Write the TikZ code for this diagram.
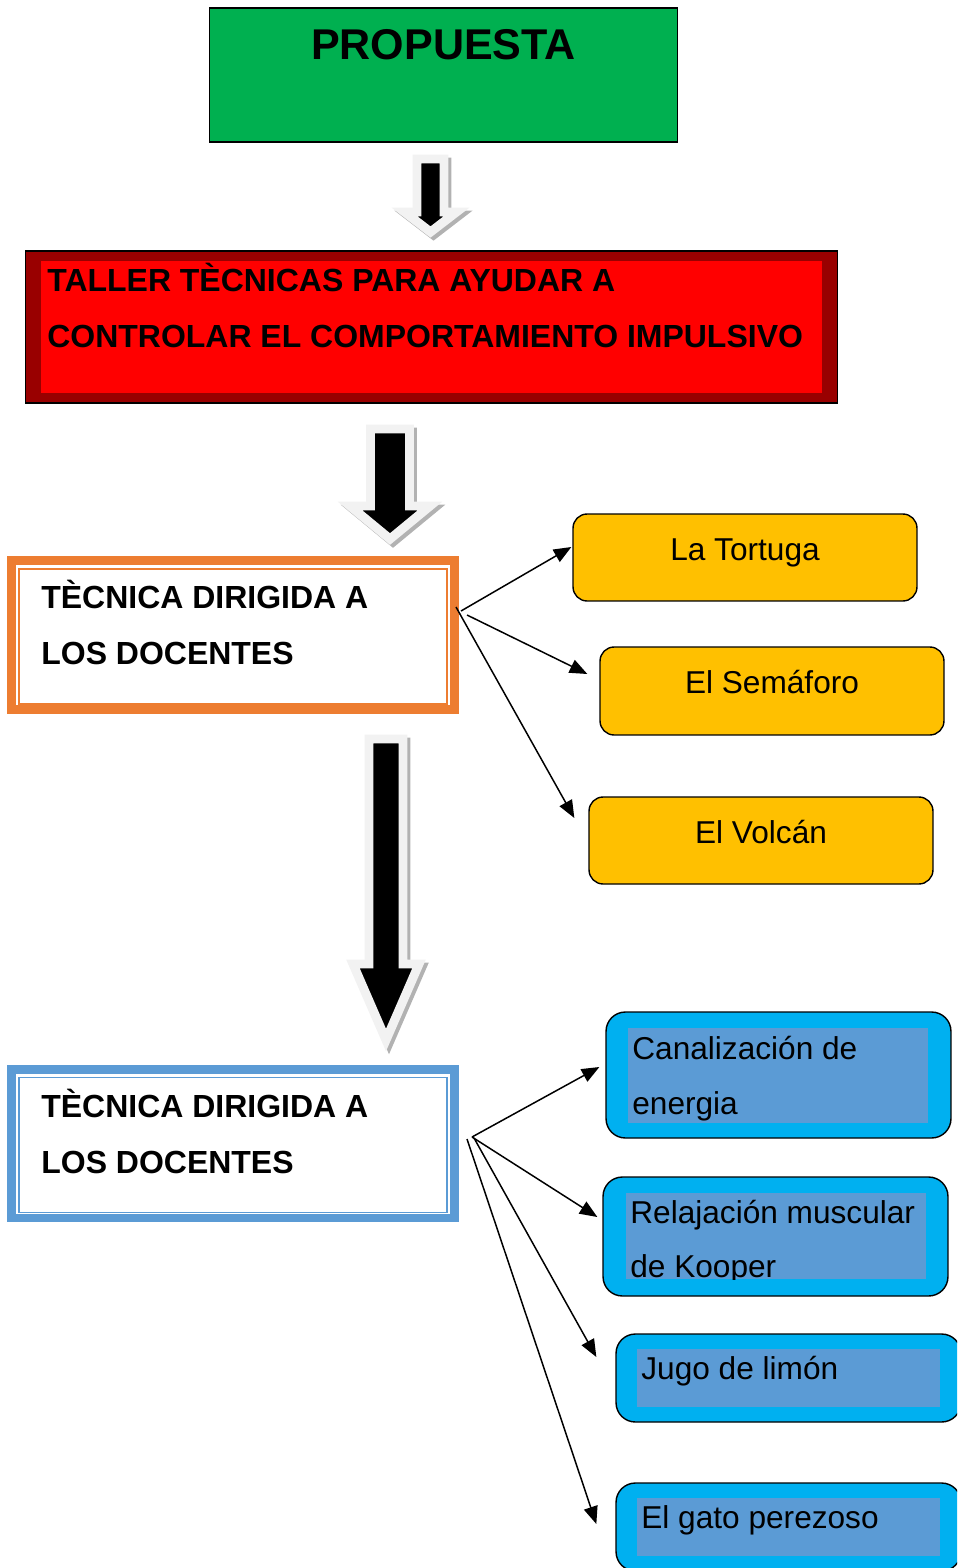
\documentclass[tikz,border=0pt]{standalone}
\usepackage{fontspec}
\setmainfont{Liberation Sans}
\usepackage{xcolor}
\usetikzlibrary{positioning}
\usetikzlibrary{calc}
\usetikzlibrary{arrows.meta}

\definecolor{propgreen}{HTML}{00B050}
\definecolor{tallerdark}{HTML}{990000}
\definecolor{tallerred}{HTML}{FF0000}
\definecolor{tecorange}{HTML}{ED7D31}
\definecolor{tecblue}{HTML}{5B9BD5}
\definecolor{actyellow}{HTML}{FFC000}
\definecolor{actcyan}{HTML}{00B0F0}
\definecolor{arrowrim}{HTML}{F2F2F2}

\begin{document}
\begin{tikzpicture}
  [
    x=0.02cm, y=-0.02cm,
    bigtext/.style={
       font=\fontsize{18.2}{32}\selectfont\bfseries,
       inner sep=0pt,
       align=left,
       anchor=north west
    },
    smalltext/.style={
       font=\fontsize{18}{31}\selectfont,
       inner sep=0pt,
       align=left
    },
    tecframe/.style={
       draw=#1,
       line width=5.1pt,
       minimum width=8.86cm,
       minimum height=2.98cm,
       inner sep=0pt
    },
    tecline/.style={
       draw=#1,
       line width=0.9pt,
       minimum width=8.56cm,
       minimum height=2.70cm,
       inner sep=0pt
    },
    techbox/.style={
       draw=black,
       fill=actyellow,
       rounded corners=8pt,
       line width=0.8pt,
       minimum width=6.88cm,
       inner sep=0pt,
       font=\fontsize{18}{22}\selectfont,
       text height=0.92cm
    },
    actbox/.style={
       draw=black,
       fill=actcyan,
       rounded corners=11pt,
       line width=0.8pt,
       minimum width=6.9cm,
       inner sep=0pt
    },
    actfill/.style={
       fill=tecblue,
       inner sep=0pt
    },
    conn/.style={
       draw=black,
       line width=0.85pt,
       -{Triangle[length=10pt, width=8pt]}
    },
    bigarrow/.style={
       draw=arrowrim,
       fill=black,
       line width=5.1pt,
       line join=miter
    },
    arrowshadow/.style={
       draw=black!30,
       fill=black!30,
       line width=5.1pt,
       line join=miter
    }
  ]
  \path [use as bounding box] (0,0) rectangle (957,1568);
  \clip (0,0) rectangle (957,1568);

  % top of the chart
  \node (prop) at (443.5,75) [draw=black, fill=propgreen, line width=0.6pt, minimum width=9.38cm,
        inner sep=0pt, text height=1.02cm, text depth=1.66cm,
        font=\fontsize{24.5}{28}\selectfont\bfseries] {PROPUESTA};

  \node (taller)   at (431.5,327) [draw=black, fill=tallerdark, line width=0.6pt,
        minimum width=16.26cm, minimum height=3.04cm, inner sep=0pt] {};
  \node (tallerin) at (431.5,327) [fill=tallerred, minimum width=15.62cm, minimum height=2.64cm,
        inner sep=0pt] {};
  \node (tallertxt) at (47,263) [bigtext] {TALLER TÈCNICAS PARA AYUDAR A\\CONTROLAR EL COMPORTAMIENTO IMPULSIVO};

  % block arrows
  \draw [arrowshadow, shift={(3,3)}]
        (417,159) -- (444,159) -- (444,212) -- (456.5,212) -- (430.5,232) -- (404.5,212) -- (417,212) -- cycle;
  \draw [bigarrow]
        (417,159) -- (444,159) -- (444,212) -- (456.5,212) -- (430.5,232) -- (404.5,212) -- (417,212) -- cycle;

  \draw [arrowshadow, shift={(3,3)}]
        (370.5,429) -- (409.5,429) -- (409.5,506) -- (430,506) -- (390,539) -- (350,506) -- (370.5,506) -- cycle;
  \draw [bigarrow]
        (370.5,429) -- (409.5,429) -- (409.5,506) -- (430,506) -- (390,539) -- (350,506) -- (370.5,506) -- cycle;

  \draw [arrowshadow, shift={(3,3)}]
        (369,739) -- (403,739) -- (403,964) -- (419,964) -- (386,1040) -- (353,964) -- (369,964) -- cycle;
  \draw [bigarrow]
        (369,739) -- (403,739) -- (403,964) -- (419,964) -- (386,1040) -- (353,964) -- (369,964) -- cycle;

  % first technique
  \node (tec1)   at (233,635)   [tecframe=tecorange] {};
  \node (tec1in) at (233,636.5) [tecline=tecorange]  {};
  \node (tec1txt) at (41,580) [bigtext] {TÈCNICA DIRIGIDA A\\LOS DOCENTES};

  \node (tortuga)  at (745,557.5) [techbox, text depth=0.82cm] {La Tortuga};
  \node (semaforo) at (772,691)   [techbox, text depth=0.84cm] {El Semáforo};
  \node (volcan)   at (761,840.5) [techbox, text depth=0.82cm] {El Volcán};

  % second technique
  \node (tec2)   at (233,1143.5) [tecframe=tecblue] {};
  \node (tec2in) at (233,1145)   [tecline=tecblue]  {};
  \node (tec2txt) at (41,1089) [bigtext] {TÈCNICA DIRIGIDA A\\LOS DOCENTES};

  \node (canal)   at (778.5,1075)  [actbox, minimum height=2.52cm] {};
  \node (canalin) at (778,1075.5)  [actfill, minimum width=6.0cm, minimum height=1.9cm] {};
  \node (canaltxt) at (632,1036) [smalltext, anchor=north west] {Canalización de\\energia};

  \node (relaj)   at (775.5,1236.5) [actbox, minimum height=2.38cm] {};
  \node (relajin) at (776,1236)     [actfill, minimum width=6.0cm, minimum height=1.72cm] {};
  \begin{scope}
    \clip (relajin.south west) rectangle (relajin.north east);
    \node (relajtxt) at (630,1199.5) [smalltext, anchor=north west] {Relajación muscular\\de Kooper};
  \end{scope}

  \node (jugo)   at (788.5,1378) [actbox, minimum height=1.76cm] {};
  \node (jugoin) at (788.5,1378) [actfill, minimum width=6.06cm, minimum height=1.16cm] {};
  \node (jugotxt) at (641,1379) [smalltext, anchor=base west] {Jugo de limón};

  \node (gato)   at (788.5,1527) [actbox, minimum height=1.76cm] {};
  \node (gatoin) at (788.5,1527) [actfill, minimum width=6.06cm, minimum height=1.16cm] {};
  \node (gatotxt) at (641,1528) [smalltext, anchor=base west] {El gato perezoso};

  % connectors
  \coordinate (o1) at (461,611);
  \coordinate (o2) at (467,615);
  \coordinate (o3) at (456,607);
  \draw [conn] (o1) -- ($(tortuga.west)+(-1,-10.5)$);
  \draw [conn] (o2) -- ($(semaforo.west)+(-12,-17)$);
  \draw [conn] (o3) -- ($(volcan.west)+(-14,-22.5)$);

  \coordinate (b1) at (472,1137);
  \coordinate (b2) at (474,1138);
  \coordinate (b3) at (467,1139);
  \draw [conn] (b1) -- ($(canal.west)+(-6,-8)$);
  \draw [conn] (b1) -- ($(relaj.west)+(-5,-19.5)$);
  \draw [conn] (b2) -- ($(jugo.west)+(-19,-21)$);
  \draw [conn] (b3) -- ($(gato.west)+(-19,-3)$);
\end{tikzpicture}
\end{document}
